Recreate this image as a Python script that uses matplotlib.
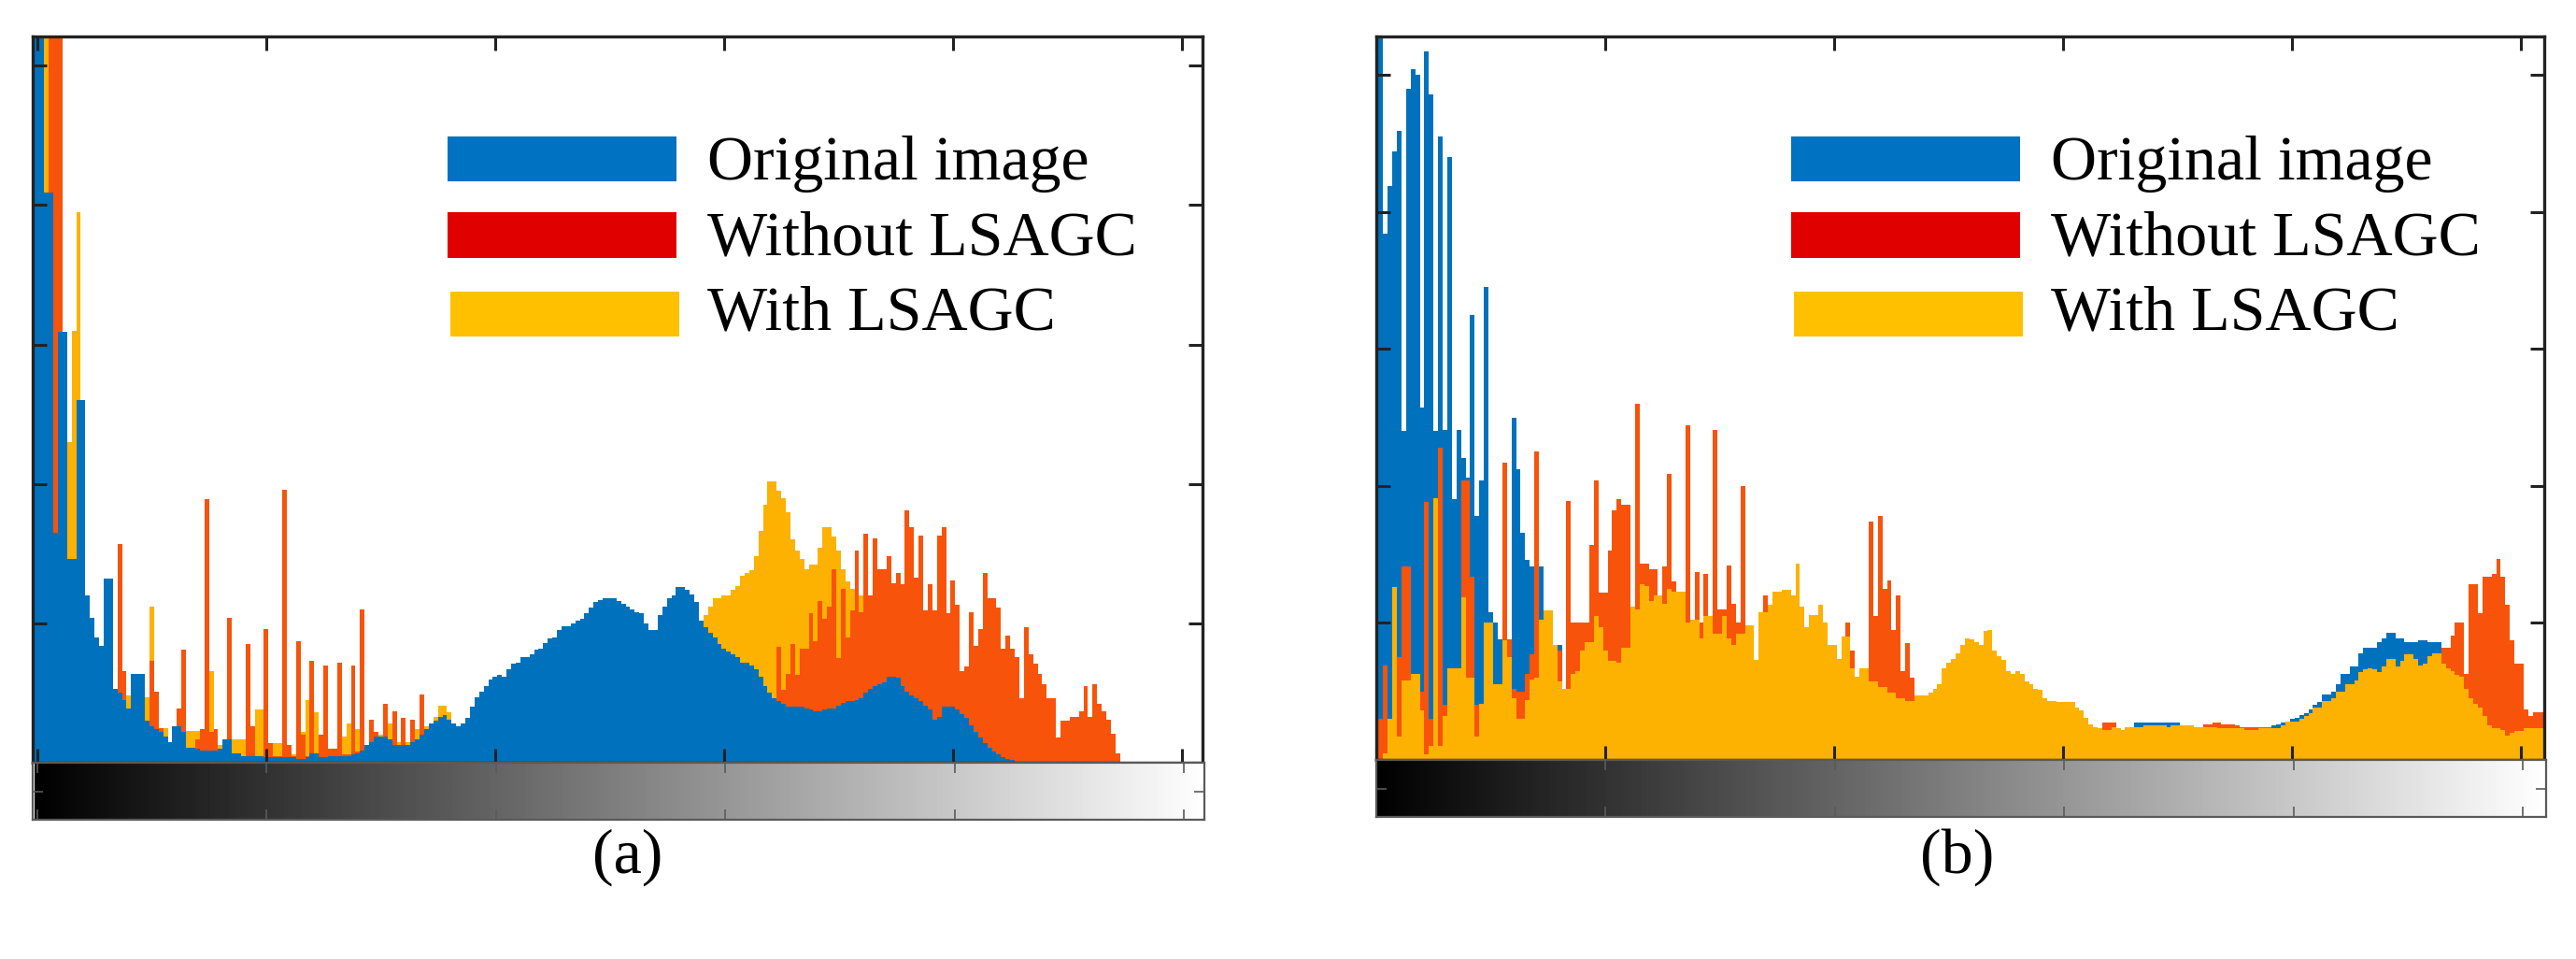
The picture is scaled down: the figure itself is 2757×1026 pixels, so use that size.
import numpy as np
import matplotlib
matplotlib.use("Agg")
import matplotlib.pyplot as plt
from matplotlib.patches import Rectangle

# ---------------- data (gray levels 0..255, heights in tick units) ----------------
levels = list(range(256))
series_names = ["Original image", "Without LSAGC", "With LSAGC"]

a_original = [
    8.0, 8.0, 4.09, 4.09, 1.65, 3.09, 3.09, 1.46, 1.46, 2.6, 2.6, 1.2, 1.04, 0.9, 0.84, 1.32,
    1.32, 0.53, 0.5, 0.45, 0.39, 0.64, 0.64, 0.64, 0.3, 0.26, 0.24, 0.22, 0.19, 0.15, 0.26, 0.26,
    0.22, 0.11, 0.11, 0.1, 0.09, 0.09, 0.09, 0.09, 0.1, 0.17, 0.17, 0.07, 0.07, 0.05, 0.05, 0.05,
    0.05, 0.05, 0.04, 0.04, 0.04, 0.04, 0.04, 0.04, 0.04, 0.03, 0.03, 0.04, 0.07, 0.07, 0.04, 0.04,
    0.05, 0.05, 0.05, 0.05, 0.05, 0.06, 0.07, 0.09, 0.13, 0.15, 0.19, 0.19, 0.19, 0.17, 0.13, 0.13,
    0.13, 0.13, 0.15, 0.17, 0.2, 0.24, 0.28, 0.3, 0.33, 0.34, 0.31, 0.28, 0.26, 0.28, 0.32, 0.4,
    0.47, 0.51, 0.55, 0.6, 0.62, 0.63, 0.62, 0.67, 0.71, 0.72, 0.76, 0.76, 0.78, 0.81, 0.82, 0.86,
    0.89, 0.9, 0.95, 0.98, 0.98, 1.0, 1.02, 1.03, 1.07, 1.11, 1.15, 1.17, 1.18, 1.18, 1.18, 1.16,
    1.14, 1.12, 1.1, 1.08, 1.07, 1.0, 0.95, 0.95, 1.06, 1.12, 1.18, 1.2, 1.26, 1.26, 1.24, 1.21,
    1.15, 1.02, 0.97, 0.93, 0.9, 0.85, 0.82, 0.8, 0.78, 0.76, 0.72, 0.72, 0.7, 0.67, 0.62, 0.55,
    0.5, 0.46, 0.44, 0.42, 0.4, 0.4, 0.4, 0.4, 0.39, 0.38, 0.37, 0.37, 0.38, 0.39, 0.39, 0.41,
    0.43, 0.44, 0.44, 0.45, 0.46, 0.5, 0.53, 0.55, 0.56, 0.58, 0.62, 0.62, 0.61, 0.55, 0.51, 0.48,
    0.46, 0.44, 0.41, 0.38, 0.31, 0.33, 0.4, 0.4, 0.4, 0.38, 0.35, 0.32, 0.27, 0.22, 0.18, 0.14,
    0.11, 0.08, 0.06, 0.04, 0.03, 0.02, 0.01, 0, 0, 0, 0, 0, 0, 0, 0, 0,
    0, 0, 0, 0, 0, 0, 0, 0, 0, 0, 0, 0, 0, 0, 0, 0,
    0, 0, 0, 0, 0, 0, 0, 0, 0, 0, 0, 0, 0, 0, 0, 0,
]

a_without = [
    0, 0, 0.5, 6.0, 6.0, 6.0, 1.0, 1.0, 0.8, 0.6, 0.5, 0.4, 0.3, 0.3, 0.3, 0.3,
    0.3, 0.4, 1.57, 0.66, 0.2, 0.2, 0.2, 0.2, 0.3, 0.73, 0.51, 0.25, 0.12, 0.1, 0.1, 0.39,
    0.81, 0.1, 0.1, 0.17, 0.24, 1.89, 0.22, 0.24, 0.05, 0.05, 1.04, 0.05, 0.05, 0.05, 0.85, 0.26,
    0.05, 0.05, 0.96, 0.14, 0.05, 0.05, 1.96, 0.13, 0.05, 0.87, 0.2, 0.05, 0.73, 0.05, 0.2, 0.7,
    0.1, 0.1, 0.72, 0.06, 0.06, 0.7, 0.08, 1.1, 0.1, 0.31, 0.22, 0.15, 0.42, 0.1, 0.37, 0.1,
    0.32, 0.1, 0.31, 0.1, 0.49, 0.15, 0.15, 0.2, 0.2, 0.2, 0.2, 0.2, 0.2, 0.2, 0.25, 0.3,
    0.3, 0.3, 0.3, 0.3, 0.3, 0.3, 0.3, 0.3, 0.3, 0.3, 0.3, 0.3, 0.3, 0.3, 0.3, 0.3,
    0.3, 0.3, 0.3, 0.3, 0.3, 0.3, 0.3, 0.3, 0.3, 0.3, 0.3, 0.3, 0.3, 0.3, 0.3, 0.3,
    0.3, 0.3, 0.3, 0.3, 0.3, 0.3, 0.3, 0.3, 0.3, 0.3, 0.3, 0.3, 0.3, 0.3, 0.3, 0.3,
    0.3, 0.3, 0.3, 0.3, 0.3, 0.3, 0.3, 0.3, 0.3, 0.3, 0.3, 0.3, 0.3, 0.3, 0.3, 0.3,
    0.3, 0.3, 0.83, 0.52, 0.64, 0.85, 0.63, 0.82, 0.82, 1.07, 0.87, 1.16, 1.03, 1.12, 1.39, 0.75,
    1.25, 0.9, 1.09, 1.52, 1.08, 1.64, 1.2, 1.61, 1.39, 1.39, 1.48, 1.29, 1.36, 1.28, 1.81, 1.69,
    1.33, 1.63, 1.09, 1.28, 1.09, 1.63, 1.69, 1.07, 1.31, 1.13, 0.66, 0.69, 1.08, 0.84, 0.96, 1.36,
    1.18, 1.18, 1.11, 0.82, 0.91, 0.82, 0.76, 0.46, 0.97, 0.78, 0.71, 0.64, 0.56, 0.46, 0.46, 0.18,
    0.3, 0.3, 0.33, 0.33, 0.37, 0.55, 0.33, 0.56, 0.42, 0.37, 0.31, 0.21, 0.07, 0.01, 0.01, 0.01,
    0.01, 0, 0, 0, 0, 0, 0, 0, 0, 0, 0, 0, 0, 0, 0, 0,
]

a_with = [
    0, 0, 6.0, 1.5, 1.0, 1.0, 1.0, 2.3, 3.1, 3.95, 1.0, 0.8, 0.6, 0.5, 0.5, 0.4,
    0.4, 0.3, 0.3, 0.3, 0.48, 0.3, 0.3, 0.3, 0.47, 1.12, 0.3, 0.22, 0.25, 0.12, 0.1, 0.1,
    0.1, 0.23, 0.23, 0.23, 0.15, 0.3, 0.66, 0.13, 0.13, 0.08, 0.08, 0.17, 0.17, 0.17, 0.1, 0.19,
    0.38, 0.38, 0.1, 0.14, 0.14, 0.14, 0.08, 0.06, 0.06, 0.15, 0.22, 0.45, 0.1, 0.36, 0.08, 0.08,
    0.08, 0.08, 0.15, 0.19, 0.28, 0.1, 0.24, 0.1, 0.1, 0.15, 0.2, 0.2, 0.2, 0.28, 0.15, 0.15,
    0.15, 0.15, 0.15, 0.24, 0.2, 0.26, 0.26, 0.33, 0.41, 0.41, 0.36, 0.2, 0.2, 0.2, 0.2, 0.25,
    0.3, 0.3, 0.35, 0.35, 0.4, 0.4, 0.4, 0.45, 0.45, 0.5, 0.5, 0.5, 0.55, 0.55, 0.6, 0.6,
    0.6, 0.65, 0.65, 0.7, 0.7, 0.7, 0.75, 0.75, 0.8, 0.8, 0.8, 0.85, 0.85, 0.85, 0.9, 0.9,
    0.9, 0.9, 0.9, 0.9, 0.9, 0.9, 0.9, 0.9, 0.92, 0.95, 0.95, 0.97, 0.97, 0.98, 0.98, 1.0,
    1.0, 1.01, 1.06, 1.12, 1.18, 1.18, 1.2, 1.2, 1.24, 1.27, 1.34, 1.36, 1.38, 1.48, 1.66, 1.85,
    2.02, 2.02, 1.95, 1.9, 1.8, 1.6, 1.52, 1.46, 1.39, 1.42, 1.42, 1.54, 1.69, 1.69, 1.62, 1.52,
    1.39, 1.3, 1.25, 1.25, 1.2, 1.1, 1.0, 0.9, 0.8, 0.7, 0.6, 0.5, 0.45, 0.4, 0.35, 0.3,
    0.25, 0.25, 0.25, 0.25, 0.25, 0.25, 0.25, 0.25, 0.25, 0.25, 0.25, 0.25, 0.25, 0.25, 0.25, 0.25,
    0.25, 0.25, 0.25, 0.25, 0.25, 0.25, 0.25, 0.25, 0.25, 0.25, 0.25, 0.25, 0.25, 0, 0, 0,
    0, 0, 0, 0, 0, 0, 0, 0, 0, 0, 0, 0, 0, 0, 0, 0,
    0, 0, 0, 0, 0, 0, 0, 0, 0, 0, 0, 0, 0, 0, 0, 0,
]

b_original = [
    3.45, 6.0, 3.84, 4.19, 4.44, 4.59, 2.4, 4.9, 5.04, 5.0, 2.57, 5.17, 4.86, 2.4, 4.55, 2.41,
    4.4, 1.9, 2.41, 2.2, 2.06, 3.25, 1.78, 2.04, 3.45, 1.08, 1.0, 0.88, 0.94, 0.75, 2.5, 2.12,
    1.66, 1.46, 1.41, 1.41, 1.41, 0.98, 0.6, 0.6, 0.84, 0.5, 0.4, 0.4, 0.4, 0.4, 0.4, 0.4,
    0.4, 0.4, 0.4, 0.4, 0.4, 0.4, 0.4, 0.4, 0.4, 0.4, 0.4, 0.4, 0.4, 0.4, 0.4, 0.4,
    0.4, 0.4, 0.4, 0.4, 0.4, 0.4, 0.4, 0.4, 0.4, 0.4, 0.4, 0.4, 0.4, 0.4, 0.4, 0.4,
    0.4, 0.4, 0.4, 0.4, 0.4, 0.4, 0.4, 0.4, 0.4, 0.4, 0.4, 0.4, 0.4, 0.4, 0.4, 0.4,
    0.4, 0.4, 0.4, 0.4, 0.4, 0.4, 0.4, 0.4, 0.4, 0.4, 0.4, 0.4, 0.4, 0.4, 0.4, 0.4,
    0.4, 0.4, 0.4, 0.4, 0.4, 0.4, 0.4, 0.4, 0.4, 0.4, 0.4, 0.4, 0.4, 0.4, 0.4, 0.4,
    0.4, 0.4, 0.4, 0.4, 0.4, 0.4, 0.4, 0.4, 0.4, 0.4, 0.4, 0.4, 0.4, 0.4, 0.4, 0.4,
    0.4, 0.4, 0.4, 0.4, 0.4, 0.4, 0.4, 0.4, 0.4, 0.35, 0.3, 0.25, 0.22, 0.2, 0.2, 0.2,
    0.2, 0.2, 0.2, 0.2, 0.2, 0.2, 0.27, 0.27, 0.27, 0.27, 0.27, 0.27, 0.27, 0.27, 0.27, 0.27,
    0.2, 0.2, 0.2, 0.2, 0.2, 0.2, 0.2, 0.2, 0.2, 0.2, 0.2, 0.2, 0.2, 0.2, 0.2, 0.2,
    0.2, 0.2, 0.2, 0.2, 0.25, 0.26, 0.27, 0.28, 0.3, 0.31, 0.33, 0.34, 0.37, 0.4, 0.42, 0.48,
    0.48, 0.5, 0.55, 0.63, 0.63, 0.68, 0.68, 0.78, 0.82, 0.82, 0.82, 0.86, 0.89, 0.93, 0.93, 0.89,
    0.89, 0.86, 0.86, 0.86, 0.87, 0.87, 0.86, 0.86, 0.86, 0.79, 0.6, 0.5, 0.4, 0.3, 0.2, 0.2,
    0.2, 0.2, 0.2, 0.2, 0.2, 0.2, 0.2, 0.2, 0.2, 0.2, 0.2, 0.2, 0.2, 0.2, 0.2, 0.2,
]

b_without = [
    0, 0.3, 0.69, 0.2, 0.3, 0.75, 1.41, 1.41, 0.3, 0.3, 0.5, 1.88, 0.3, 0.4, 2.28, 0.4,
    0.4, 0.4, 0.4, 2.04, 2.04, 1.34, 0.4, 0.4, 0.5, 0.5, 0.5, 0.5, 2.17, 0.88, 0.52, 0.5,
    0.5, 0.63, 0.77, 2.25, 0.98, 0.8, 0.8, 0.8, 0.8, 0.5, 1.89, 1.0, 1.0, 1.0, 1.0, 1.57,
    2.04, 1.22, 1.22, 1.53, 1.82, 1.9, 1.86, 1.86, 0.9, 2.6, 1.43, 1.43, 1.39, 1.39, 1.0, 1.41,
    2.09, 1.3, 1.0, 1.0, 2.44, 1.0, 1.37, 1.0, 1.36, 1.0, 2.41, 1.1, 1.1, 1.42, 1.14, 1.0,
    2.0, 0.9, 0.9, 0.7, 0.9, 1.2, 1.0, 1.0, 1.0, 1.0, 1.0, 1.0, 1.0, 1.0, 0.8, 0.9,
    0.9, 0.9, 0.8, 0.7, 0.6, 0.6, 0.6, 1.0, 0.8, 0.5, 0.5, 0.5, 1.74, 1.05, 1.78, 1.25,
    1.31, 0.95, 1.2, 0.65, 0.85, 0.6, 0.4, 0.4, 0.4, 0.4, 0.4, 0.4, 0.4, 0.4, 0.4, 0.4,
    0.4, 0.4, 0.4, 0.4, 0.4, 0.4, 0.4, 0.4, 0.4, 0.4, 0.4, 0.4, 0.4, 0.4, 0.4, 0.4,
    0.4, 0.4, 0.4, 0.4, 0.4, 0.4, 0.4, 0.4, 0.4, 0.35, 0.3, 0.25, 0.22, 0.2, 0.2, 0.27,
    0.27, 0.27, 0.2, 0.2, 0.2, 0.2, 0.2, 0.2, 0.2, 0.2, 0.2, 0.2, 0.2, 0.2, 0.2, 0.2,
    0.2, 0.2, 0.2, 0.2, 0.2, 0.26, 0.26, 0.27, 0.27, 0.26, 0.26, 0.26, 0.25, 0.24, 0.24, 0.24,
    0.24, 0.24, 0.24, 0.24, 0.2, 0.2, 0.2, 0.2, 0.2, 0.2, 0.2, 0.2, 0.2, 0.2, 0.2, 0.2,
    0.2, 0.2, 0.2, 0.2, 0.2, 0.2, 0.2, 0.2, 0.2, 0.2, 0.2, 0.2, 0.2, 0.2, 0.2, 0.2,
    0.2, 0.2, 0.2, 0.2, 0.2, 0.2, 0.2, 0.2, 0.2, 0.82, 0.82, 0.91, 1.0, 1.0, 0.63, 1.28,
    1.28, 1.07, 1.34, 1.34, 1.36, 1.47, 1.34, 1.13, 0.87, 0.7, 0.7, 0.37, 0.32, 0.35, 0.35, 0.35,
]

b_with = [
    5.12, 0.0, 0.05, 0.3, 1.26, 0.17, 0.58, 0.58, 0.63, 0.63, 0.36, 0.04, 0.1, 1.91, 0.1, 0.32,
    0.67, 0.67, 0.67, 1.19, 0.6, 0.6, 0.17, 0.41, 1.0, 1.0, 0.55, 0.55, 0.87, 0.75, 0.45, 0.3,
    0.3, 0.44, 0.59, 0.6, 1.02, 1.09, 1.09, 0.84, 0.57, 0.52, 0.52, 0.63, 0.65, 0.8, 0.86, 0.86,
    1.05, 0.97, 0.8, 0.72, 0.72, 0.71, 0.82, 0.82, 1.12, 1.1, 1.28, 1.27, 1.16, 1.2, 1.2, 1.14,
    1.25, 1.23, 1.23, 1.23, 1.0, 1.02, 1.02, 0.89, 1.05, 1.05, 0.92, 0.92, 1.05, 0.89, 0.84, 0.92,
    0.92, 0.98, 0.98, 0.73, 1.08, 1.08, 1.13, 1.23, 1.23, 1.24, 1.24, 1.2, 1.43, 1.12, 0.97, 1.06,
    1.06, 1.13, 1.0, 0.84, 0.84, 0.74, 0.9, 0.9, 0.67, 0.61, 0.67, 0.67, 0.57, 0.57, 0.53, 0.53,
    0.49, 0.49, 0.45, 0.45, 0.43, 0.43, 0.47, 0.47, 0.47, 0.49, 0.52, 0.55, 0.67, 0.71, 0.74, 0.78,
    0.84, 0.89, 0.88, 0.86, 0.84, 0.94, 0.95, 0.8, 0.76, 0.73, 0.65, 0.63, 0.65, 0.63, 0.57, 0.55,
    0.52, 0.51, 0.45, 0.43, 0.43, 0.42, 0.42, 0.42, 0.42, 0.38, 0.36, 0.31, 0.26, 0.24, 0.23, 0.22,
    0.22, 0.24, 0.23, 0.22, 0.24, 0.24, 0.24, 0.24, 0.25, 0.25, 0.25, 0.25, 0.25, 0.24, 0.25, 0.25,
    0.25, 0.25, 0.25, 0.24, 0.24, 0.24, 0.24, 0.24, 0.23, 0.23, 0.23, 0.23, 0.23, 0.23, 0.22, 0.22,
    0.22, 0.23, 0.23, 0.23, 0.23, 0.23, 0.25, 0.28, 0.28, 0.28, 0.3, 0.32, 0.34, 0.38, 0.38, 0.43,
    0.43, 0.45, 0.5, 0.5, 0.55, 0.55, 0.58, 0.64, 0.66, 0.67, 0.66, 0.64, 0.68, 0.74, 0.74, 0.68,
    0.72, 0.77, 0.77, 0.74, 0.69, 0.7, 0.76, 0.78, 0.78, 0.7, 0.67, 0.65, 0.62, 0.61, 0.52, 0.45,
    0.41, 0.38, 0.32, 0.25, 0.23, 0.23, 0.22, 0.18, 0.2, 0.21, 0.21, 0.23, 0.23, 0.23, 0.23, 0.23,
]

xticks = [0, 50, 100, 150, 200, 250]
yticks = [0, 1, 2, 3, 4, 5]
panel_labels = ["(a)", "(b)"]

# ---------------- style ----------------
W, H = 2757, 1026
BAR_BLUE, BAR_ORANGE, BAR_YELLOW = "#0072BD", "#F8530A", "#FDB100"
LEG_BLUE, LEG_RED, LEG_YELLOW = "#0072C2", "#E00000", "#FFC000"
SERIF = ["Liberation Serif", "DejaVu Serif"]
AX_COL = "#222222"
CB_COL = "#5a5a5a"

fig = plt.figure(figsize=(W / 100, H / 100), dpi=100)
fig.patch.set_facecolor("white")


def frac_rect(l, t, r, b):
    return [l / W, 1 - b / H, (r - l) / W, (b - t) / H]


def style_hist(ax, xlim, ylim):
    ax.set_xlim(*xlim)
    ax.set_ylim(*ylim)
    ax.set_xticks(xticks)
    ax.set_yticks(yticks)
    ax.set_xticklabels([])
    ax.set_yticklabels([])
    ax.tick_params(direction="in", length=11, width=2.2, color=AX_COL,
                   top=True, bottom=True, left=True, right=True)
    for s in ax.spines.values():
        s.set_linewidth(2.4)
        s.set_color(AX_COL)
        s.set_zorder(5)


def colorbar_axes(rect, xlim):
    cax = fig.add_axes(rect)
    grad = np.arange(256).reshape(1, 256)
    cax.imshow(grad, cmap="gray", aspect="auto", extent=[-0.5, 255.5, 0, 1],
               vmin=0, vmax=255, interpolation="bilinear")
    cax.set_xlim(*xlim)
    cax.set_ylim(0, 1)
    cax.set_xticks(xticks)
    cax.set_yticks([0.5])
    cax.set_xticklabels([])
    cax.set_yticklabels([])
    cax.tick_params(direction="in", length=8, width=1.2, color=CB_COL,
                    top=True, bottom=True, left=True, right=True)
    for s in cax.spines.values():
        s.set_linewidth(1.6)
        s.set_color(CB_COL)
    return cax


def legend(px_left):
    rows = [(146, 194, LEG_BLUE, 192, 0), (227, 276, LEG_RED, 272, 0),
            (312, 360, LEG_YELLOW, 352, 3)]
    for (top, bot, col, base, dx), name in zip(rows, series_names):
        l = px_left + 444 + dx
        fig.patches.append(Rectangle((l / W, 1 - bot / H), 245 / W, (bot - top) / H,
                                     transform=fig.transFigure, facecolor=col,
                                     edgecolor="none", zorder=10))
        fig.text((px_left + 722) / W, 1 - base / H, name, fontsize=49,
                 family=SERIF, va="baseline", ha="left", color="black", zorder=11)


edges = np.arange(257) - 0.5

# ---------------- panel (a) ----------------
ax_a = fig.add_axes(frac_rect(35, 39, 1287, 816))
ax_a.stairs(a_with, edges, fill=True, color=BAR_YELLOW, lw=0, zorder=1.0)
ax_a.stairs(a_without, edges, fill=True, color=BAR_ORANGE, lw=0, zorder=1.1)
ax_a.stairs(a_original, edges, fill=True, color=BAR_BLUE, lw=0, zorder=1.2)
style_hist(ax_a, (-1, 254.5), (0, 5.21))
colorbar_axes(frac_rect(35, 816, 1289, 877), (-1, 254.5))
legend(35)

# ---------------- panel (b) ----------------
ax_b = fig.add_axes(frac_rect(1473, 39, 2723, 813))
ax_b.stairs(b_original, edges, fill=True, color=BAR_BLUE, lw=0, zorder=1.0)
ax_b.stairs(b_without, edges, fill=True, color=BAR_ORANGE, lw=0, zorder=1.1)
ax_b.stairs(b_with, edges, fill=True, color=BAR_YELLOW, lw=0, zorder=1.2)
style_hist(ax_b, (0, 255), (0, 5.28))
colorbar_axes(frac_rect(1473, 813, 2725, 874), (0, 255))
legend(1473)

# ---------------- panel labels ----------------
fig.text(672 / W, 1 - 917 / H, panel_labels[0], fontsize=49, family=SERIF,
         ha="center", va="center")
fig.text(2095 / W, 1 - 917 / H, panel_labels[1], fontsize=49, family=SERIF,
         ha="center", va="center")

fig.savefig("out.png", dpi=100, facecolor="white")
